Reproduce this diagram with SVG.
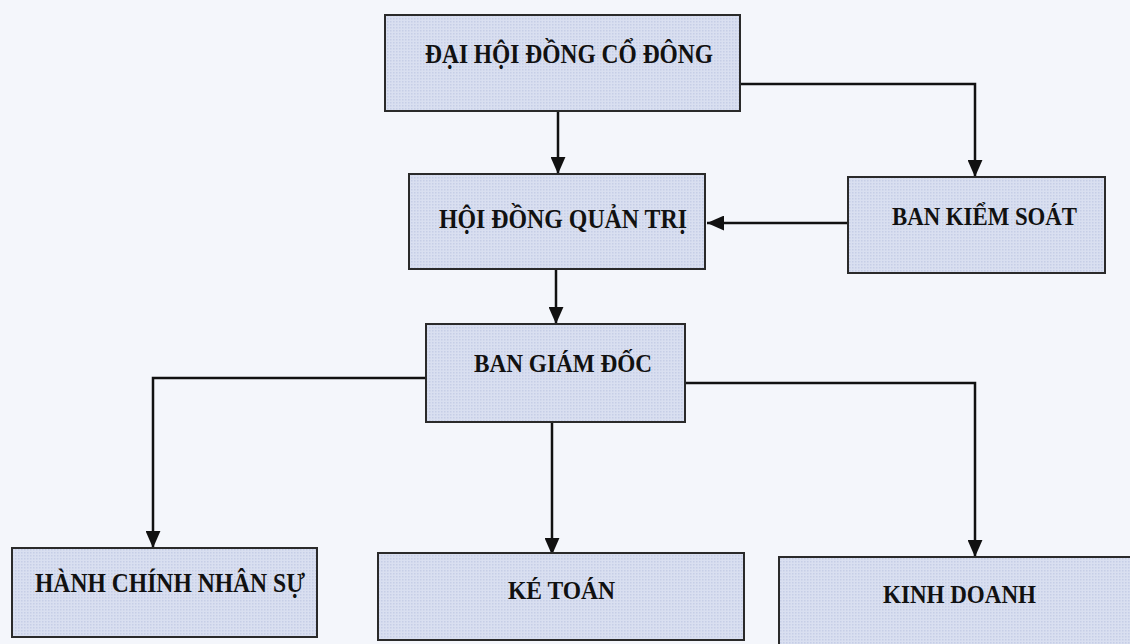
<svg xmlns="http://www.w3.org/2000/svg" width="1130" height="644" viewBox="0 0 1130 644">
  <defs>
    <marker id="arrow" viewBox="0 0 16 14" refX="16" refY="7" markerWidth="17" markerHeight="15" markerUnits="userSpaceOnUse" orient="auto">
      <path d="M0,0 L16,7 L0,14 z" fill="#111"/>
    </marker>
    <pattern id="dots" width="3" height="3" patternUnits="userSpaceOnUse">
      <rect width="3" height="3" fill="#d9dff0"/>
      <rect width="1.5" height="1.5" fill="#c6cee6"/>
    </pattern>
  </defs>
  <style>
    .box { fill: url(#dots); stroke: #2a2a2a; stroke-width: 2; }
    .lbl { font-family: "Liberation Serif", "Times New Roman", serif; font-weight: bold; fill: #111; }
    .conn { fill: none; stroke: #111; stroke-width: 2.5; }
  </style>
  <rect width="1130" height="644" fill="#f4f6fb"/>

  <g id="connectors">
    <path class="conn" d="M558 112 V174" marker-end="url(#arrow)"/>
    <path class="conn" d="M740 84 H975 V177" marker-end="url(#arrow)"/>
    <path class="conn" d="M848 223 H707" marker-end="url(#arrow)"/>
    <path class="conn" d="M556 270 V324" marker-end="url(#arrow)"/>
    <path class="conn" d="M426 378 H153 V548" marker-end="url(#arrow)"/>
    <path class="conn" d="M552 422 V555" marker-end="url(#arrow)"/>
    <path class="conn" d="M685 383 H975 V557" marker-end="url(#arrow)"/>
  </g>

  <g id="dai-hoi-dong-co-dong">
    <rect class="box" x="385" y="15" width="355" height="96"/>
    <text class="lbl" x="425" y="63" font-size="28" textLength="288" lengthAdjust="spacingAndGlyphs">ĐẠI HỘI ĐỒNG CỔ ĐÔNG</text>
  </g>

  <g id="hoi-dong-quan-tri">
    <rect class="box" x="409" y="174" width="296" height="95"/>
    <text class="lbl" x="439" y="228" font-size="28" textLength="248" lengthAdjust="spacingAndGlyphs">HỘI ĐỒNG QUẢN TRỊ</text>
  </g>

  <g id="ban-kiem-soat">
    <rect class="box" x="848" y="177" width="257" height="96"/>
    <text class="lbl" x="892" y="225" font-size="26" textLength="185" lengthAdjust="spacingAndGlyphs">BAN KIỂM SOÁT</text>
  </g>

  <g id="ban-giam-doc">
    <rect class="box" x="426" y="324" width="259" height="98"/>
    <text class="lbl" x="474" y="372" font-size="25" textLength="178" lengthAdjust="spacingAndGlyphs">BAN GIÁM ĐỐC</text>
  </g>

  <g id="hanh-chinh-nhan-su">
    <rect class="box" x="12" y="548" width="305" height="89"/>
    <text class="lbl" x="35" y="592" font-size="28" textLength="270" lengthAdjust="spacingAndGlyphs">HÀNH CHÍNH NHÂN SỰ</text>
  </g>

  <g id="ke-toan">
    <rect class="box" x="378" y="553" width="366" height="87"/>
    <text class="lbl" x="508" y="599" font-size="26" textLength="107" lengthAdjust="spacingAndGlyphs">KÉ TOÁN</text>
  </g>

  <g id="kinh-doanh">
    <rect class="box" x="779" y="557" width="360" height="100"/>
    <text class="lbl" x="883" y="603" font-size="26" textLength="153" lengthAdjust="spacingAndGlyphs">KINH DOANH</text>
  </g>
</svg>
